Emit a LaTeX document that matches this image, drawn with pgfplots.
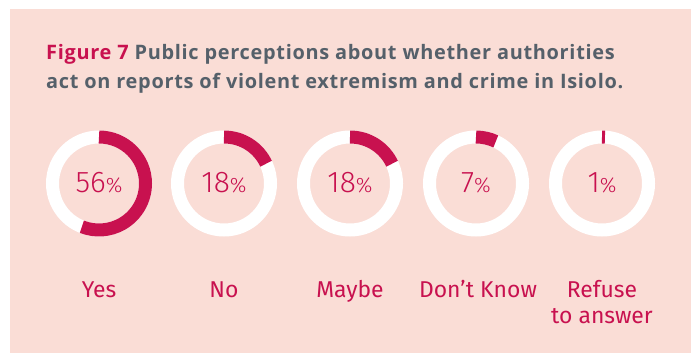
\documentclass[border=0pt]{standalone}
\usepackage{pgfplots}
\pgfplotsset{compat=1.18}
\usepackage{fontspec}
\setmainfont{Fira Sans}
\newfontfamily\lightfont{Fira Sans Light}
\newfontfamily\titlefont[LetterSpace=3.5]{Open Sans}
\definecolor{bg}{HTML}{FADDD6}
\definecolor{crimson}{HTML}{C8114F}
\definecolor{titlegrey}{HTML}{55606A}
\begin{document}
\begin{tikzpicture}[lab/.style={anchor=base, font=\fontsize{23}{26}\selectfont, text=crimson, inner sep=0pt}]
\begin{axis}[
  width=691bp, height=353bp, scale only axis, hide axis,
  xmin=0, xmax=691, ymin=0, ymax=353, y dir=reverse, clip=false]
\fill[bg] (axis cs:10,9) rectangle (axis cs:691,353);
\node[anchor=base west, font=\titlefont\bfseries\fontsize{20}{23}\selectfont, text=titlegrey, inner sep=0pt]
  at (axis cs:46,59) {\textcolor{crimson}{Figure 7} Public perceptions about whether authorities};
\node[anchor=base west, font=\titlefont\bfseries\fontsize{20}{23}\selectfont, text=titlegrey, inner sep=0pt]
  at (axis cs:46,88) {act on reports of violent extremism and crime in Isiolo.};
\addplot[only marks, scatter, mark=*, mark size=0pt,
  point meta=explicit symbolic,
  scatter/@pre marker code/.code={%
    \draw[draw=white, line width=13bp] (0,0) circle[radius=46.5bp];
    \draw[draw=crimson, line width=13bp] (90:46.5bp) arc[start angle=90, end angle={90-3.6*\pgfplotspointmeta}, radius=46.5bp];
    \node[text=crimson, inner sep=0pt, anchor=center] at (0,1bp) {\lightfont\fontsize{30}{30}\selectfont\pgfplotspointmeta{\fontsize{21}{21}\selectfont\%}};
  },
  scatter/@post marker code/.code={},
] coordinates {(99,183.5) [56] (224,183.5) [18] (350,183.5) [18] (476,183.5) [7] (602,183.5) [1]};
\node[lab] at (axis cs:99,297) {Yes};
\node[lab] at (axis cs:224,297) {No};
\node[lab] at (axis cs:350,297) {Maybe};
\node[lab] at (axis cs:478,297) {Don’t Know};
\node[lab] at (axis cs:602,297) {Refuse};
\node[lab] at (axis cs:602,323) {to answer};
\end{axis}
\pgfresetboundingbox
\path[use as bounding box] (current axis.south west) rectangle (current axis.north east);
\end{tikzpicture}
\end{document}
